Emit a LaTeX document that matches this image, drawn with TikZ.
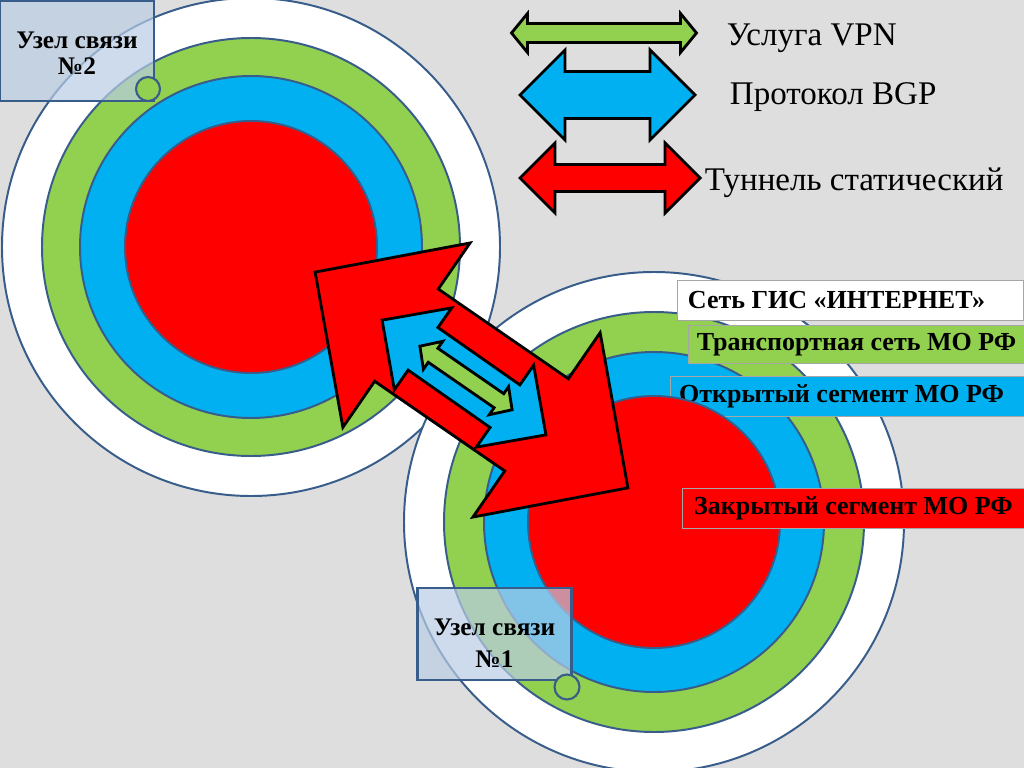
\documentclass[tikz,border=0pt]{standalone}
\usepackage{fontspec}
\setmainfont{Liberation Serif}
\definecolor{vpngreen}{HTML}{92D050}
\definecolor{bgpblue}{HTML}{00B0F0}
\definecolor{tunred}{HTML}{FF0000}
\definecolor{ringline}{HTML}{385D8A}
\definecolor{hubfill}{HTML}{B9CDE5}
\definecolor{slidebg}{HTML}{DEDEDE}

\begin{document}
\begin{tikzpicture}[x=0.025cm, y=-0.025cm,
  every node/.style={font=\fontsize{18.5}{20}\selectfont\bfseries},
  ring/.style={draw=ringline, line width=1.4pt},
  arr/.style={draw=black, line width=2pt, line join=miter},
  layer/.style={draw=gray!70, line width=0.6pt, anchor=north west, minimum height=1cm, inner sep=0pt},
  hub/.style={draw=ringline, line width=2pt, fill=hubfill, fill opacity=0.7, text opacity=1,
    align=center, minimum width=3.85cm, minimum height=2.5cm, font=\fontsize{18}{18}\selectfont\bfseries},
  hubdot/.style={draw=ringline, line width=1.5pt, fill=vpngreen, fill opacity=1, draw opacity=1},
  legend/.style={anchor=west, font=\fontsize{23.5}{26}\selectfont}]

  \fill[slidebg] (0,0) rectangle (1024,768);
  \useasboundingbox (0,0) rectangle (1024,768);

  % node 2
  \draw[ring, fill=white] (251,247) circle [radius=249];
  \draw[ring, fill=vpngreen] (251,247) circle [radius=209];
  \draw[ring, fill=bgpblue] (251,247) circle [radius=171];
  \draw[ring, fill=tunred] (251,247) circle [radius=126];

  % node 1
  \draw[ring, fill=white] (654,522) circle [radius=250];
  \draw[ring, fill=vpngreen] (654,522) circle [radius=210];
  \draw[ring, fill=bgpblue] (654,522) circle [radius=170];

  \node[layer, fill=white, minimum width=8.65cm] (inet) at (677,280) {Сеть ГИС «ИНТЕРНЕТ»\hspace*{0.7cm}};
  \node[layer, fill=vpngreen, minimum width=8.4cm, minimum height=0.95cm] (trans) at (688,325) {Транспортная сеть МО РФ};
  \node[layer, fill=bgpblue, minimum width=8.85cm] (open) at (670,376) {Открытый сегмент МО РФ\hspace*{0.3cm}};

  \draw[ring, fill=tunred] (654,522) circle [radius=126];

  \node[layer, fill=tunred, minimum width=8.55cm] (closed) at (682,488) {Закрытый сегмент МО РФ};

  % tunnel between the nodes
  \begin{scope}[shift={(471.5,380)}, rotate=-34.6]
    \draw[arr, fill=tunred] (-190,0) -- (-79,112) -- (-79,56) -- (79,56) -- (79,112) -- (190,0)
      -- (79,-112) -- (79,-56) -- (-79,-56) -- (-79,-112) -- cycle;
  \end{scope}
  \begin{scope}[shift={(464,377.5)}, rotate=-35]
    \draw[arr, fill=bgpblue] (-100,0) -- (-50,50) -- (-50,26) -- (50,26) -- (50,50) -- (100,0)
      -- (50,-50) -- (50,-26) -- (-50,-26) -- (-50,-50) -- cycle;
  \end{scope}
  \begin{scope}[shift={(466,378)}, rotate=-34.6]
    \draw[arr, fill=vpngreen] (-56,0) -- (-40,17) -- (-40,8.5) -- (40,8.5) -- (40,17) -- (56,0)
      -- (40,-17) -- (40,-8.5) -- (-40,-8.5) -- (-40,-17) -- cycle;
  \end{scope}

  \node[hub] (hub2) at (77,51) {\rule{0pt}{15pt}Узел связи\\№2};
  \node[hub, minimum height=2.3cm] (hub1) at (494.5,634) {\rule{0pt}{24.5pt}Узел связи\\[4.5pt]№1};

  % legend
  \begin{scope}[shift={(604,33)}]
    \draw[arr, fill=vpngreen] (-92.5,0) -- (-76.5,19.5) -- (-76.5,9.5) -- (76.5,9.5) -- (76.5,19.5) -- (92.5,0)
      -- (76.5,-19.5) -- (76.5,-9.5) -- (-76.5,-9.5) -- (-76.5,-19.5) -- cycle;
  \end{scope}
  \begin{scope}[shift={(607.5,95)}]
    \draw[arr, fill=bgpblue] (-87.5,0) -- (-42.5,45) -- (-42.5,23.5) -- (42.5,23.5) -- (42.5,45) -- (87.5,0)
      -- (42.5,-45) -- (42.5,-23.5) -- (-42.5,-23.5) -- (-42.5,-45) -- cycle;
  \end{scope}
  \begin{scope}[shift={(610,178)}]
    \draw[arr, fill=tunred] (-90,0) -- (-55,35) -- (-55,13.5) -- (55,13.5) -- (55,35) -- (90,0)
      -- (55,-35) -- (55,-13.5) -- (-55,-13.5) -- (-55,-35) -- cycle;
  \end{scope}
  \node[legend] (vpn) at (722,38) {Услуга VPN};
  \node[legend] (bgp) at (725,97) {Протокол BGP};
  \node[legend] (tun) at (700,183) {Туннель статический};

  \draw[hubdot] (148,89) circle [radius=12];
  \draw[hubdot] (567,687) circle [radius=12.5];
\end{tikzpicture}
\end{document}
